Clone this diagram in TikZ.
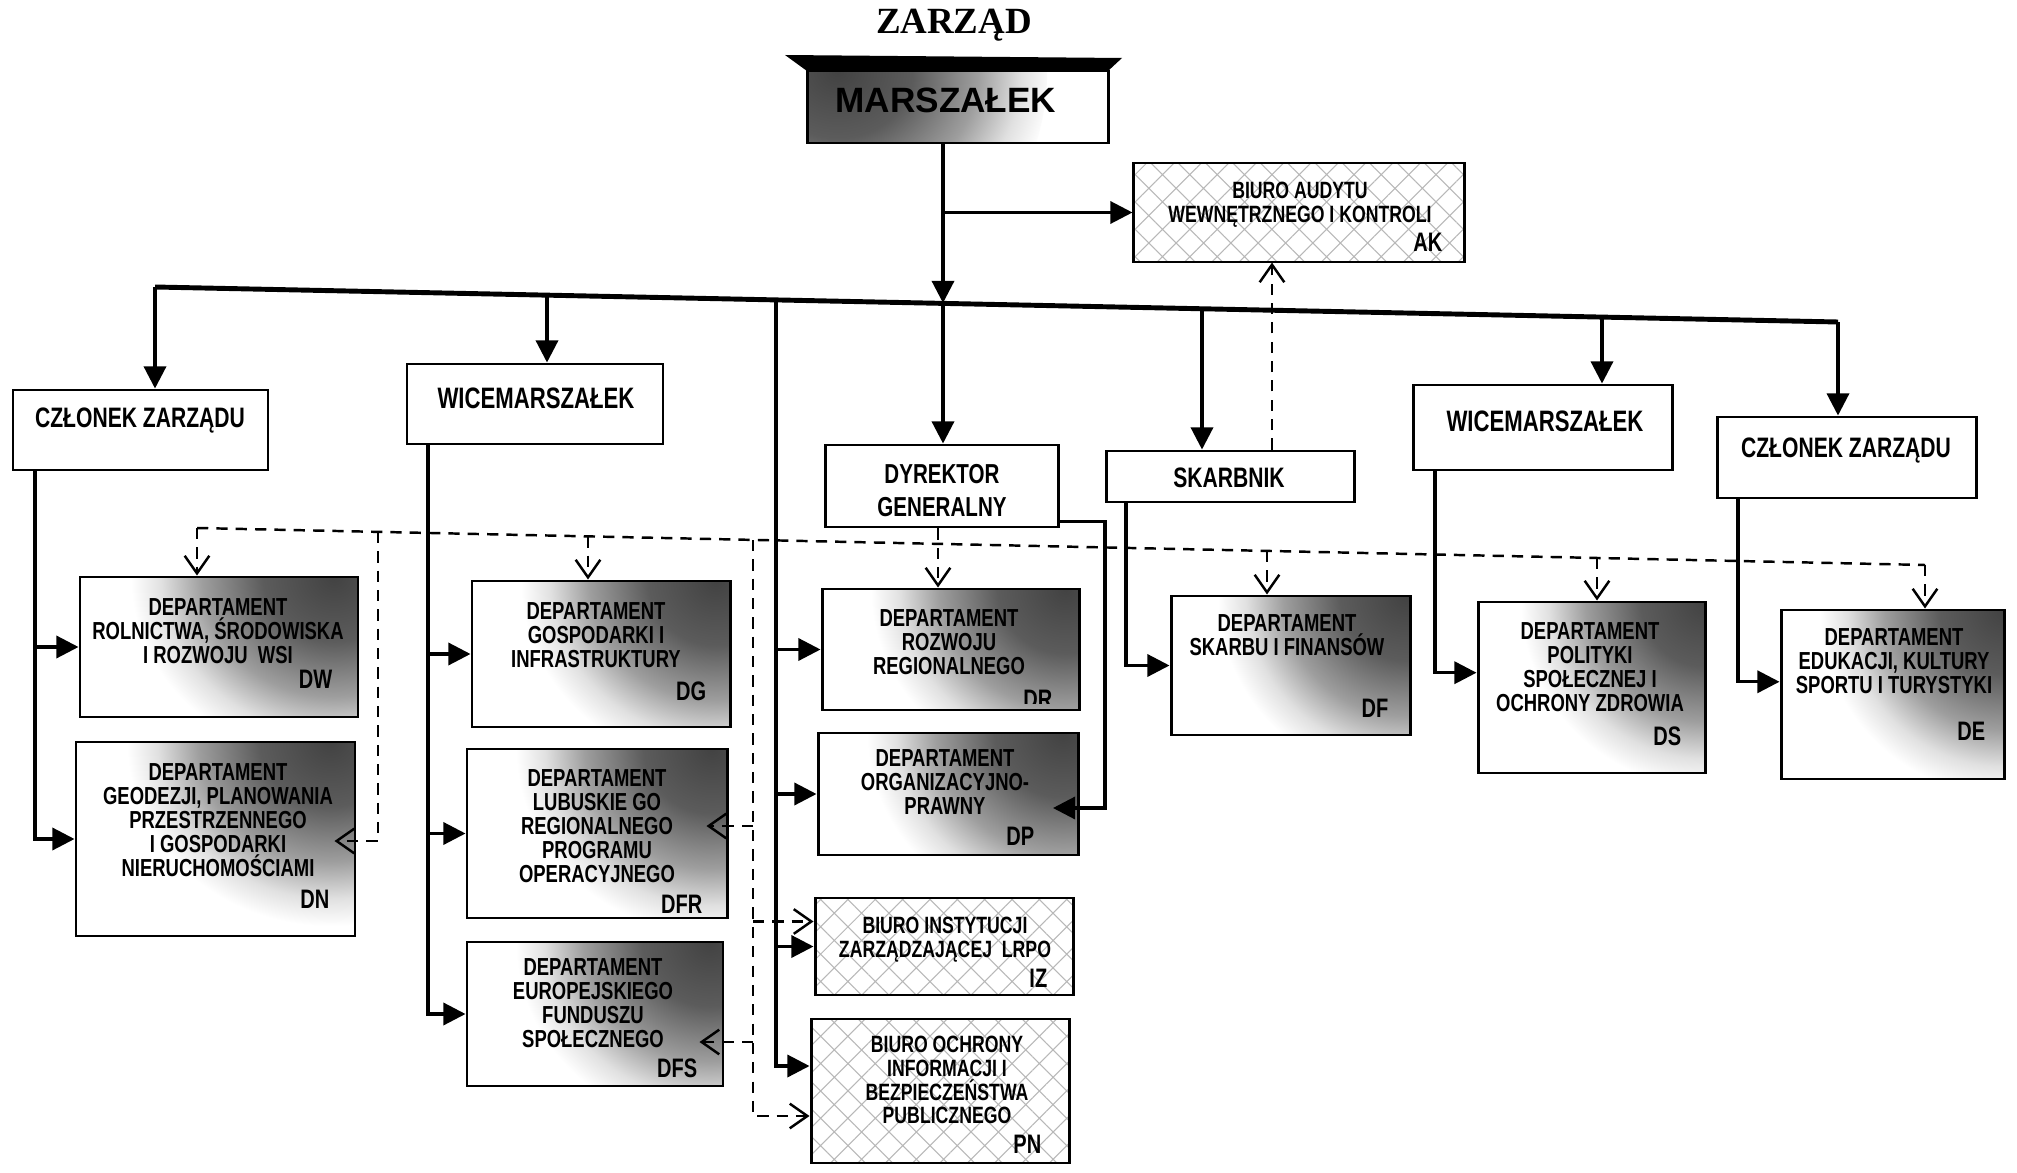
\documentclass[tikz,border=0pt]{standalone}
\usepackage{fontspec}
\setmainfont{Liberation Sans}
\newfontfamily\nf{Liberation Sans Bold}[FakeStretch=0.75]
\newfontfamily\tf{Liberation Serif}
\usetikzlibrary{arrows.meta,patterns.meta,fit,calc}
\colorlet{shA}{black!74}
\colorlet{shB}{black!64}
\colorlet{shC}{black!38}
\colorlet{shD}{black!12}
\pgfdeclareradialshading{cornerfade}{\pgfpoint{0bp}{0bp}}{color(0bp)=(shA); color(7bp)=(shB); color(13bp)=(shC); color(17bp)=(shD); color(20bp)=(white); color(50bp)=(white)}
\tikzset{
  box/.style={draw, line width=0.85pt, inner sep=0pt},
  plainbox/.style={box, fill=white},
  deptbox/.style={box, fill=white, path picture={\shade[shading=cornerfade] (path picture bounding box.north east) circle (2.3cm);}},
  hatchbox/.style={box, pattern={Hatch[angle=45,distance=5.5pt,line width=0.3pt]}, pattern color=black!28},
  arr/.style={line width=0.9pt, -{Triangle[length=6.3pt,width=6.3pt]}},
  ln/.style={line width=0.9pt},
  bus/.style={line width=1.4pt},
  dsh/.style={line width=0.7pt, dash pattern=on 3.2pt off 2.3pt},
  darr/.style={dsh, -{Straight Barb[length=5pt,width=7pt]}},
  dtxt/.style={font=\nf\fontsize{7}{6.8}\selectfont, align=center, inner sep=0pt},
  htxt/.style={font=\nf\fontsize{6.7}{6.8}\selectfont, align=center, inner sep=0pt},
  codetxt/.style={font=\nf\fontsize{7.6}{8}\selectfont, inner sep=0pt, anchor=base east},
  roletxt/.style={font=\nf\fontsize{8}{9}\selectfont, inner sep=0pt, anchor=base},
}
\begin{document}
\setlength{\lineskiplimit}{-20pt}
\begin{tikzpicture}[x=0.01cm,y=-0.01cm]
\fill[white] (0,0) rectangle (2017,1173);
\useasboundingbox (0,0) rectangle (2017,1173);

% ---------- title and top box
\node[font=\tf\bfseries\fontsize{10.5}{12}\selectfont, anchor=base, inner sep=0pt] (ttl) at (954,34) {ZARZĄD};
\fill (785,55) -- (1122,58) -- (1108,71) -- (807,71) -- cycle;
\node[box, fill=white, fit={(807,71) (1108,143)}, path picture={\shade[shading=cornerfade] (path picture bounding box.north west) circle (2.4cm);}] (M) {};
\node[font=\bfseries\fontsize{10}{12}\selectfont, anchor=base east, inner sep=0pt] (Mt) at (1057,113) {MARSZAŁEK};

% ---------- role boxes
\node[hatchbox, fit={(1133,163) (1464,262)}] (AK) {};
\node[plainbox, fit={(13,390) (268,470)}] (CZL) {};
\node[plainbox, fit={(407,364) (663,444)}] (WL) {};
\node[plainbox, fit={(825,445) (1058,527)}] (DYR) {};
\node[plainbox, fit={(1106,451) (1354,502)}] (SK) {};
\node[plainbox, fit={(1413,385) (1672,470)}] (WR) {};
\node[plainbox, fit={(1717,417) (1976,498)}] (CR) {};

% ---------- department boxes
\node[deptbox, fit={(80,577) (358,717)}] (DW) {};
\node[deptbox, fit={(76,742) (355,936)}] (DN) {};
\node[deptbox, fit={(472,581) (730,727)}] (DG) {};
\node[deptbox, fit={(467,749) (727,918)}] (DFR) {};
\node[deptbox, fit={(467,942) (723,1086)}] (DFS) {};
\node[deptbox, fit={(822,589) (1079,710)}] (DR) {};
\node[deptbox, fit={(818,733) (1078,855)}] (DP) {};
\node[hatchbox, fit={(815,898) (1073,995)}] (IZ) {};
\node[hatchbox, fit={(811,1019) (1069,1163)}] (PN) {};
\node[deptbox, fit={(1171,596) (1410,735)}] (DF) {};
\node[deptbox, fit={(1478,602) (1705,773)}] (DS) {};
\node[deptbox, fit={(1781,610) (2004,779)}] (DE) {};

% ---------- coordinates
\coordinate (busL) at (155,287);
\coordinate (busR) at (1838,322);
\coordinate (bWL) at (547,295);
\coordinate (bV) at (776,300);
\coordinate (bD) at (943,303);
\coordinate (bSK) at (1202,309);
\coordinate (bWR) at (1602,317);
\coordinate (xL) at (35,0);
\coordinate (xW) at (428,0);
\coordinate (xS) at (1126,0);
\coordinate (xWR) at (1435,0);
\coordinate (xCR) at (1738,0);
\coordinate (xSA) at (1272,0);
\coordinate (xDR) at (938,0);
\coordinate (dL) at (197,528);
\coordinate (dR) at (1925,565);
\coordinate (dN) at (378,532);
\coordinate (dG) at (588,536.4);
\coordinate (dV) at (753,540);
\coordinate (dF) at (1267,551);
\coordinate (dS) at (1597,558);
\coordinate (PNa) at ($(PN.north west)!0.33!(PN.south west)$);
\coordinate (PNb) at ($(PN.north west)!0.67!(PN.south west)$);
\coordinate (IZb) at ($(IZ.north west)!0.25!(IZ.south west)$);
\coordinate (DSa) at ($(DS.north west)!0.415!(DS.south west)$);
\coordinate (DEa) at ($(DE.north west)!0.426!(DE.south west)$);
\coordinate (DYRe) at ($(DYR.south east)+(0,-7)$);
\coordinate (DPr) at (1105,808);
\coordinate (DPa) at (1053,808);
\coordinate (DNa) at ($(DN.east)+(-22,2)$);
\coordinate (DFRa) at ($(DFR.east)+(-22,-7.5)$);
\coordinate (DFSa) at ($(DFS.east)+(-25,28)$);

% ---------- solid connectors
\draw[bus] (busL) -- (busR);
\draw[arr] (M.south -| bD) -- (bD);
\draw[arr] (bD) -- (DYR.north -| bD);
\draw[arr] (AK.west -| bD) -- (AK.west);
\draw[arr] (busL) -- (CZL.north -| busL);
\draw[arr] (bWL) -- (WL.north -| bWL);
\draw[arr] (bSK) -- (SK.north -| bSK);
\draw[arr] (bWR) -- (WR.north -| bWR);
\draw[arr] (busR) -- (CR.north -| busR);
\draw[arr] (bV) |- (PNa);
\draw[arr] (DR.west -| bV) -- (DR.west);
\draw[arr] (DP.west -| bV) -- (DP.west);
\draw[arr] (IZ.west -| bV) -- (IZ.west);
\draw[arr] (CZL.south -| xL) |- (DN.west);
\draw[arr] (DW.west -| xL) -- (DW.west);
\draw[arr] (WL.south -| xW) |- (DFS.west);
\draw[arr] (DG.west -| xW) -- (DG.west);
\draw[arr] (DFR.west -| xW) -- (DFR.west);
\draw[arr] (DYRe) -| (DPr) -- (DPa);
\draw[arr] (SK.south -| xS) |- (DF.west);
\draw[arr] (WR.south -| xWR) |- (DSa);
\draw[arr] (CR.south -| xCR) |- (DEa);

% ---------- dashed connectors
\draw[darr] (SK.north -| xSA) -- (AK.south -| xSA);
\draw[dsh] (dL) -- (dR);
\draw[darr] (dL) -- (DW.north -| dL);
\draw[darr] (dR) -- (DE.north -| dR);
\draw[darr] (dN) |- (DNa);
\draw[darr] (dG) -- (DG.north -| dG);
\draw[darr] (dV) |- (PNb);
\draw[darr] (DFRa -| dV) -- (DFRa);
\draw[darr] (IZb -| dV) -- (IZb);
\draw[darr] (DFSa -| dV) -- (DFSa);
\draw[darr] (DYR.south -| xDR) -- (DR.north -| xDR);
\draw[darr] (dF) -- (DF.north -| dF);
\draw[darr] (dS) -- (DS.north -| dS);

% ---------- role texts
\node[roletxt] (CZLt) at (140,428) {CZŁONEK ZARZĄDU};
\node[roletxt, font=\nf\fontsize{8.4}{9}\selectfont] (WLt) at (536,409) {WICEMARSZAŁEK};
\node[roletxt, font=\nf\fontsize{7.8}{9}\selectfont] (DYRt1) at (942,483) {DYREKTOR};
\node[roletxt, font=\nf\fontsize{7.8}{9}\selectfont] (DYRt2) at (942,517) {GENERALNY};
\node[roletxt] (SKt) at (1229,488) {SKARBNIK};
\node[roletxt, font=\nf\fontsize{8.4}{9}\selectfont] (WRt) at (1545,432) {WICEMARSZAŁEK};
\node[roletxt] (CRt) at (1846,457) {CZŁONEK ZARZĄDU};

% ---------- department texts
\node[htxt] (AKt) at (1300,205) {BIURO AUDYTU\\WEWNĘTRZNEGO I KONTROLI};
\node[codetxt] (AKc) at (1443,252) {AK};
\node[dtxt] (DWt) at (218,631) {DEPARTAMENT\\ROLNICTWA, ŚRODOWISKA\\I ROZWOJU~~WSI};
\node[codetxt] (DWc) at (333,689) {DW};
\node[dtxt] (DNt) at (218,820) {DEPARTAMENT\\GEODEZJI, PLANOWANIA\\PRZESTRZENNEGO\\I GOSPODARKI\\NIERUCHOMOŚCIAMI};
\node[codetxt] (DNc) at (330,908) {DN};
\node[dtxt] (DGt) at (596,635) {DEPARTAMENT\\GOSPODARKI I\\INFRASTRUKTURY};
\node[codetxt] (DGc) at (707,700) {DG};
\node[dtxt] (DFRt) at (597,826) {DEPARTAMENT\\LUBUSKIE GO\\REGIONALNEGO\\PROGRAMU\\OPERACYJNEGO};
\node[codetxt] (DFRc) at (703,913) {DFR};
\node[dtxt] (DFSt) at (593,1003) {DEPARTAMENT\\EUROPEJSKIEGO\\FUNDUSZU\\SPOŁECZNEGO};
\node[codetxt] (DFSc) at (698,1077) {DFS};
\node[dtxt] (DRt) at (949,642) {DEPARTAMENT\\ROZWOJU\\REGIONALNEGO};
\begin{scope}
\clip (990,600) rectangle (1075,703);
\node[codetxt] (DRc) at (1053,708) {DR};
\end{scope}
\node[dtxt] (DPt) at (945,782) {DEPARTAMENT\\ORGANIZACYJNO-\\PRAWNY};
\node[codetxt] (DPc) at (1035,845) {DP};
\node[htxt] (IZt) at (945,940) {BIURO INSTYTUCJI\\ZARZĄDZAJĄCEJ~~LRPO};
\node[codetxt] (IZc) at (1048,987) {IZ};
\node[htxt] (PNt) at (947,1080) {BIURO OCHRONY\\INFORMACJI I\\BEZPIECZEŃSTWA\\PUBLICZNEGO};
\node[codetxt] (PNc) at (1042,1153) {PN};
\node[dtxt] (DFt) at (1287,635) {DEPARTAMENT\\SKARBU I FINANSÓW};
\node[codetxt] (DFc) at (1389,717) {DF};
\node[dtxt] (DSt) at (1590,667) {DEPARTAMENT\\POLITYKI\\SPOŁECZNEJ I\\OCHRONY ZDROWIA};
\node[codetxt] (DSc) at (1682,745) {DS};
\node[dtxt] (DEt) at (1894,661) {DEPARTAMENT\\EDUKACJI, KULTURY\\SPORTU I TURYSTYKI};
\node[codetxt] (DEc) at (1986,740) {DE};
\end{tikzpicture}
\end{document}
